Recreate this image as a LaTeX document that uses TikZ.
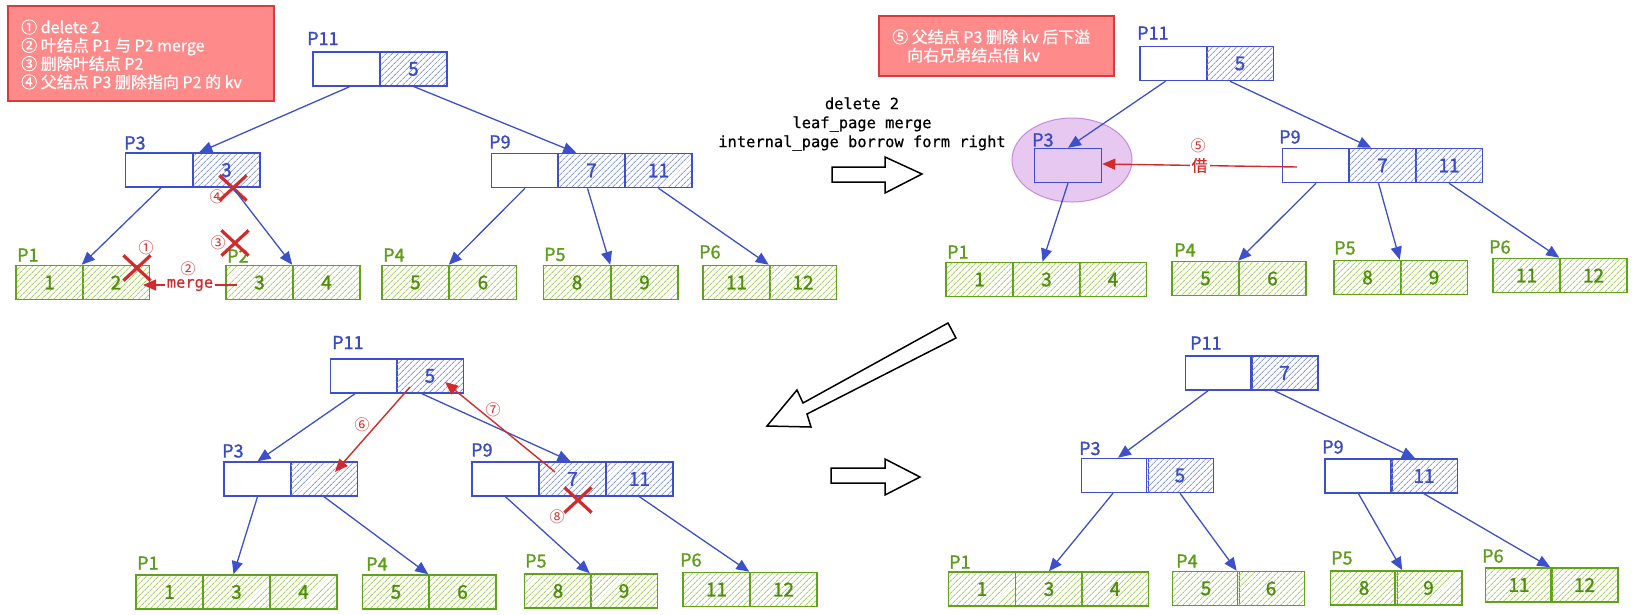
\documentclass[tikz,border=0pt]{standalone}
\usepackage{fontspec}
\setmainfont{Noto Sans CJK SC}
\newfontfamily\mycjk[FakeBold=0.7]{Noto Sans CJK SC}
\newfontfamily\mythin{Noto Sans CJK SC}
\newfontfamily\mybold[FakeBold=1.4]{Noto Sans CJK SC}
\newfontfamily\mymono[FakeBold=0.6]{DejaVu Sans Mono}
\usetikzlibrary{arrows.meta,patterns.meta,shapes.misc,shapes.geometric}
\definecolor{bstroke}{HTML}{3D50CB}
\definecolor{btext}{HTML}{3A4BC2}
\definecolor{bhatch}{HTML}{8A9DEE}
\definecolor{gstroke}{HTML}{5FA418}
\definecolor{ghatch}{HTML}{A9D46A}
\definecolor{gtext}{HTML}{4F8C0C}
\definecolor{glabel}{HTML}{5E9C1D}
\definecolor{rstroke}{HTML}{D22B2B}
\definecolor{legfill}{HTML}{FF8A8A}
\definecolor{legdraw}{HTML}{D63C3C}
\definecolor{pfill}{HTML}{E6C8F0}
\definecolor{pdraw}{HTML}{C58CDA}
\newcommand{\cellfnt}{\fontsize{19}{19}\selectfont\mybold}
\newcommand{\labfnt}{\fontsize{18}{18}\selectfont\mybold}
\newcommand{\legfnt}{\fontsize{16}{18.3}\selectfont\mycjk}
\newcommand{\rnumfnt}{\fontsize{15}{15}\selectfont\mythin}
\newcommand{\monofnt}{\fontsize{15.4}{19}\selectfont\mymono}
\tikzset{
  cellb/.style={draw=bstroke, line width=1.5pt, minimum width=67pt, minimum height=34pt, inner sep=0pt, text=btext, font=\cellfnt},
  cellw/.style={cellb, fill=white},
  hatchb/.style={cellb, pattern={Lines[angle=45,distance=4pt,line width=0.9pt]}, pattern color=bhatch},
  cellg/.style={draw=gstroke, line width=1.5pt, minimum width=67pt, minimum height=34pt, inner sep=0pt, text=gtext, font=\cellfnt, pattern={Lines[angle=45,distance=4pt,line width=0.9pt]}, pattern color=ghatch},
  lblb/.style={anchor=west, inner sep=0pt, text=btext, font=\labfnt},
  lblg/.style={anchor=west, inner sep=0pt, text=glabel, font=\labfnt},
  conn/.style={draw=bstroke, line width=1.3pt, -{Triangle[length=13pt,width=11pt]}},
  redarr/.style={draw=rstroke, line width=1.4pt, -{Triangle[length=13pt,width=11pt]}},
  rx/.style={draw=rstroke, cross out, line width=3.2pt, minimum width=24pt, minimum height=22pt, inner sep=0pt},
  rnum/.style={text=rstroke, font=\rnumfnt, inner sep=0pt},
  hollow/.style={draw=black, line width=1.5pt, fill=white, line join=miter},
  legbox/.style={draw=legdraw, fill=legfill, line width=1.8pt},
  legtext/.style={text=white, font=\legfnt, align=left, anchor=west, inner sep=0pt},
}
\begin{document}
\begin{tikzpicture}[x=1pt,y=-1pt]
\useasboundingbox (0,0) rectangle (1636,614);

% ================= legends =================
\node[legbox, minimum width=266pt, minimum height=95pt, anchor=north west] (leg1) at (7,5) {};
\node[legtext] (leg1t) at (21,54.5) {① delete 2\\② 叶结点 P1 与 P2 merge\\③ 删除叶结点 P2\\④ 父结点 P3 删除指向 P2 的 kv};
\node[legbox, minimum width=235pt, minimum height=60pt, anchor=north west] (leg2) at (878,15) {};
\node[legtext] (leg2t) at (892,46) {⑤ 父结点 P3 删除 kv 后下溢\\\hspace*{15pt}向右兄弟结点借 kv};

% ================= middle text and arrows =================
\node[font=\monofnt, align=center, inner sep=0pt] (midtxt) at (862,124) {delete 2\\leaf\_page merge\\internal\_page borrow form right};
\draw[hollow] (832,167) -- (885,167) -- (885,157) -- (922,174) -- (885,193) -- (885,182) -- (832,182) -- cycle;
\draw[hollow] (831,468) -- (885,468) -- (885,459) -- (920,477) -- (885,495) -- (885,483) -- (831,483) -- cycle;
\draw[hollow] (948,323) -- (956,338) -- (807,414) -- (811,427) -- (767,426) -- (797,390) -- (803,403) -- cycle;

% ================= Tree A (top left) =================
\node[lblb] (A11l) at (307,38.5) {P11};
\node[cellw] (A11a) at (346.5,69) {};
\node[hatchb] (A11b) at (413.5,69) {5};
\node[lblb] (A3l) at (124,143) {P3};
\node[cellw] (A3a) at (159,170) {};
\node[hatchb] (A3b) at (226.5,170) {3};
\node[lblb] (A9l) at (489,142) {P9};
\node[cellw] (A9a) at (525,170.5) {};
\node[hatchb] (A9b) at (591.5,170.5) {7};
\node[hatchb] (A9c) at (658.5,170.5) {11};
\node[lblg] (A1l) at (17,255) {P1};
\node[cellg] (A1a) at (49.5,282.5) {1};
\node[cellg] (A1b) at (116,282.5) {2};
\node[lblg] (A2l) at (227,256) {P2};
\node[cellg] (A2a) at (259.5,282.5) {3};
\node[cellg] (A2b) at (326.5,282.5) {4};
\node[lblg] (A4l) at (383,255) {P4};
\node[cellg] (A4a) at (415.5,282.5) {5};
\node[cellg] (A4b) at (483,282.5) {6};
\node[lblg] (A5l) at (544,254.5) {P5};
\node[cellg] (A5a) at (577,282.5) {8};
\node[cellg] (A5b) at (644.5,282.5) {9};
\node[lblg] (A6l) at (699,252) {P6};
\node[cellg] (A6a) at (736.5,282.5) {11};
\node[cellg] (A6b) at (803,282.5) {12};

\draw[conn] ([xshift=3pt]A11a.south) -- ([xshift=7pt]A3b.north west);
\draw[conn] (A11b.south) -- ([xshift=19pt]A9b.north west);
\draw[conn] ([xshift=2pt]A3a.south) -- (A1b.north west);
\node[rx] (X4) at (233,188) {};
\draw[conn] (X4.center) -- (A2b.north west);
\draw[conn] (A9a.south) -- (A4b.north west);
\draw[conn] ([xshift=-4pt]A9b.south) -- (A5b.north west);
\draw[conn] (A9c.south) -- (A6b.north west);

\node[rx] (X3) at (235,243) {};
\node[rx] (X1) at (137,268) {};
\node[rnum] (n4) at (217,197) {④};
\node[rnum] (n3) at (218,243) {③};
\node[rnum] (n1) at (146,248) {①};
\node[rnum] (n2) at (188,269) {②};
\coordinate (mergeR) at (237,285);
\coordinate (mergeL) at (143,285);
\draw[redarr] (mergeR) -- node[fill=white, text=rstroke, font=\monofnt, inner sep=2pt] (mergetxt) {merge} (mergeL);

% ================= Tree B (top right) =================
\node[lblb] (B11l) at (1137,33) {P11};
\node[cellw] (B11a) at (1173.5,63.5) {};
\node[hatchb] (B11b) at (1240,63.5) {5};
\node[ellipse, draw=pdraw, fill=pfill, line width=1pt, minimum width=120pt, minimum height=84pt] (Bell) at (1072,160) {};
\node[lblb] (B3l) at (1032,140) {P3};
\node[cellb] (B3a) at (1068,165.5) {};
\node[lblb] (B9l) at (1279,137) {P9};
\node[cellw] (B9a) at (1316,165.5) {};
\node[hatchb] (B9b) at (1382.5,165.5) {7};
\node[hatchb] (B9c) at (1449,165.5) {11};
\node[lblg] (B1l) at (947,252) {P1};
\node[cellg] (B1a) at (979.5,279.5) {1};
\node[cellg] (B1b) at (1046.5,279.5) {3};
\node[cellg] (B1c) at (1113,279.5) {4};
\node[lblg] (B4l) at (1174,250) {P4};
\node[cellg] (B4a) at (1205.5,278.5) {5};
\node[cellg] (B4b) at (1272.5,278.5) {6};
\node[lblg] (B5l) at (1334,248) {P5};
\node[cellg] (B5a) at (1367.5,277.5) {8};
\node[cellg] (B5b) at (1434,277.5) {9};
\node[lblg] (B6l) at (1489,247) {P6};
\node[cellg] (B6a) at (1526.5,275.5) {11};
\node[cellg] (B6b) at (1593.5,275.5) {12};

\draw[conn] ([xshift=-8pt]B11a.south) -- (B3a.north);
\draw[conn] ([xshift=-10pt]B11b.south) -- ([xshift=23pt]B9b.north west);
\draw[conn] (B3a.south) -- ([xshift=-4pt]B1b.north);
\draw[conn] (B9a.south) -- (B4b.north west);
\draw[conn] ([xshift=-4pt]B9b.south) -- (B5b.north west);
\draw[conn] (B9c.south) -- (B6b.north west);
\coordinate (borrowR) at (1297,167);
\draw[redarr] (borrowR) -- node[fill=white, text=rstroke, font=\legfnt, inner sep=2pt] (borrowtxt) {借} ([yshift=1.5pt]B3a.east);
\node[rnum] (n5) at (1198,146) {⑤};

% ================= Tree C (bottom left) =================
\node[lblb] (C11l) at (332,342.5) {P11};
\node[cellw] (C11a) at (364,376) {};
\node[hatchb] (C11b) at (430,376) {5};
\node[lblb] (C3l) at (222,451) {P3};
\node[cellw] (C3a) at (257.5,479) {};
\node[hatchb] (C3b) at (324,479) {};
\node[lblb] (C9l) at (471,450) {P9};
\node[cellw] (C9a) at (505.5,479) {};
\node[hatchb] (C9b) at (572.5,479) {7};
\node[hatchb] (C9c) at (639.5,479) {11};
\node[lblg] (C1l) at (137,563) {P1};
\node[cellg] (C1a) at (169.5,592) {1};
\node[cellg] (C1b) at (236.5,592) {3};
\node[cellg] (C1c) at (303.5,592) {4};
\node[lblg] (C4l) at (366,564) {P4};
\node[cellg] (C4a) at (396,592) {5};
\node[cellg] (C4b) at (462.5,592) {6};
\node[lblg] (C5l) at (525,561) {P5};
\node[cellg] (C5a) at (558,591) {8};
\node[cellg] (C5b) at (624,591) {9};
\node[lblg] (C6l) at (680,560) {P6};
\node[cellg] (C6a) at (716.5,589.5) {11};
\node[cellg] (C6b) at (783.5,589.5) {12};

\draw[conn] ([xshift=-9pt]C11a.south) -- (C3a.north);
\draw[conn] ([xshift=-8pt]C11b.south) -- ([xshift=-2pt]C9b.north);
\draw[conn] (C3a.south) -- ([xshift=-3pt]C1b.north);
\draw[conn] (C3b.south) -- (C4b.north west);
\draw[conn] (C9a.south) -- (C5b.north west);
\draw[conn] (C9c.south) -- (C6b.north west);
\draw[redarr] ([shift={(-20,11)}]C11b.center) -- ([shift={(11,-7)}]C3b.center);
\draw[redarr] ([shift={(-17.5,-7)}]C9b.center) -- ([shift={(15,6)}]C11b.center);
\node[rnum] (n6) at (362,425) {⑥};
\node[rnum] (n7) at (493,410) {⑦};
\node[rx] (X8) at (578,500) {};
\node[rnum] (n8) at (557,517) {⑧};

% ================= Tree D (bottom right) =================
\node[lblb] (D11l) at (1190,343) {P11};
\node[cellw] (D11a) at (1219,373) {};
\node[hatchb] (D11b) at (1284.5,373) {7};
\node[lblb] (D3l) at (1079,448.5) {P3};
\node[cellw] (D3a) at (1115,475.5) {};
\node[hatchb] (D3b) at (1180,475.5) {5};
\node[lblb] (D9l) at (1322,447) {P9};
\node[cellw] (D9a) at (1358.5,476) {};
\node[hatchb] (D9b) at (1424,476) {11};
\node[lblg] (D1l) at (949,562) {P1};
\node[cellg] (D1a) at (982,589) {1};
\node[cellg] (D1b) at (1049,589) {3};
\node[cellg] (D1c) at (1115,589) {4};
\node[lblg] (D4l) at (1176,561) {P4};
\node[cellg] (D4a) at (1206,588.5) {5};
\node[cellg] (D4b) at (1271,588.5) {6};
\node[lblg] (D5l) at (1331,558) {P5};
\node[cellg] (D5a) at (1364,588) {8};
\node[cellg] (D5b) at (1428.5,588) {9};
\node[lblg] (D6l) at (1482,556) {P6};
\node[cellg] (D6a) at (1519,585) {11};
\node[cellg] (D6b) at (1584.5,585) {12};

\draw[conn] ([xshift=-11pt]D11a.south) -- ([xshift=3pt]D3a.north);
\draw[conn] ([xshift=-10pt]D11b.south) -- ([xshift=-9pt]D9b.north);
\draw[conn] ([xshift=-2pt]D3a.south) -- (D1b.north);
\draw[conn] (D3b.south) -- (D4b.north west);
\draw[conn] (D9a.south) -- ([xshift=8pt]D5b.north west);
\draw[conn] (D9b.south) -- (D6b.north west);
\end{tikzpicture}
\end{document}
